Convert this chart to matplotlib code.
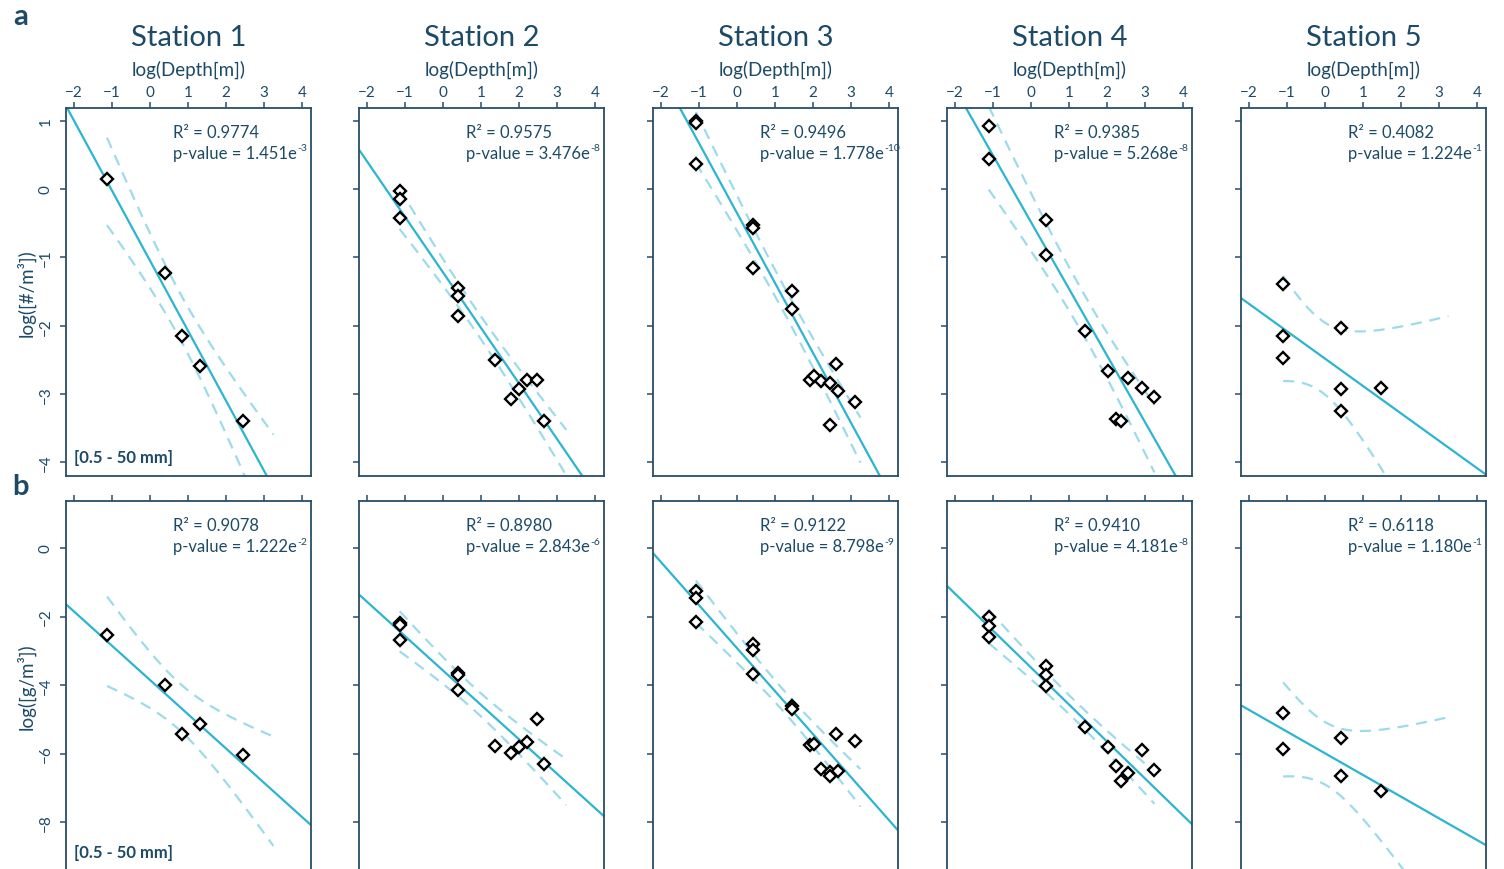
import numpy as np
import matplotlib
matplotlib.use("Agg")
import matplotlib.pyplot as plt

plt.rcParams['font.family'] = ['Lato', 'DejaVu Sans']

# --- data: x = log(depth), y = log(abundance) ---
stations = ['Station 1', 'Station 2', 'Station 3', 'Station 4', 'Station 5']

# a) log([#/m3])
x1a = [-1.13, 0.39, 0.85, 1.32, 2.45]
y1a = [0.15, -1.23, -2.15, -2.59, -3.39]
x2a = [-1.14, -1.14, -1.14, 0.39, 0.39, 0.39, 1.36, 1.79, 2.0, 2.22, 2.48, 2.65]
y2a = [-0.03, -0.14, -0.43, -1.45, -1.56, -1.86, -2.50, -3.07, -2.93, -2.80, -2.79, -3.39]
x3a = [-1.08, -1.08, -1.08, 0.42, 0.42, 0.42, 1.46, 1.45, 1.93, 2.03, 2.2, 2.45, 2.6, 2.67, 3.12, 2.45]
y3a = [0.99, 0.96, 0.37, -0.53, -0.57, -1.15, -1.49, -1.76, -2.80, -2.73, -2.81, -2.84, -2.56, -2.95, -3.12, -3.46]
x4a = [-1.11, -1.11, 0.39, 0.39, 1.42, 2.02, 2.24, 2.37, 2.55, 2.93, 3.25]
y4a = [0.92, 0.44, -0.45, -0.96, -2.08, -2.67, -3.36, -3.39, -2.76, -2.91, -3.05]
x5a = [-1.10, -1.10, -1.10, 0.41, 0.41, 0.41, 1.47]
y5a = [-1.39, -2.15, -2.47, -2.04, -2.92, -3.25, -2.91]

# b) log([g/m3])
x1b = [-1.13, 0.39, 0.85, 1.32, 2.45]
y1b = [-2.55, -4.0, -5.43, -5.13, -6.03]
x2b = [-1.14, -1.14, -1.14, 0.39, 0.39, 0.39, 1.36, 1.79, 2.0, 2.22, 2.48, 2.65]
y2b = [-2.18, -2.25, -2.69, -3.65, -3.71, -4.16, -5.79, -5.99, -5.80, -5.67, -5.00, -6.31]
x3b = [-1.08, -1.08, -1.08, 0.42, 0.42, 0.42, 1.46, 1.46, 1.93, 2.03, 2.2, 2.45, 2.45, 2.6, 2.67, 3.12]
y3b = [-1.27, -1.45, -2.15, -2.81, -2.98, -3.68, -4.61, -4.71, -5.75, -5.71, -6.45, -6.53, -6.67, -5.42, -6.51, -5.64]
x4b = [-1.11, -1.11, -1.11, 0.39, 0.39, 0.39, 1.42, 2.02, 2.25, 2.37, 2.55, 2.93, 3.25]
y4b = [-2.02, -2.27, -2.59, -3.44, -3.70, -4.02, -5.22, -5.80, -6.36, -6.79, -6.58, -5.89, -6.47]
x5b = [-1.10, -1.10, 0.41, 0.41, 1.47]
y5b = [-4.83, -5.88, -5.56, -6.66, -7.09]

r2_a = ['0.9774', '0.9575', '0.9496', '0.9385', '0.4082']
p_a = [('1.451', '-3'), ('3.476', '-8'), ('1.778', '-10'), ('5.268', '-8'), ('1.224', '-1')]
r2_b = ['0.9078', '0.8980', '0.9122', '0.9410', '0.6118']
p_b = [('1.222', '-2'), ('2.843', '-6'), ('8.798', '-9'), ('4.181', '-8'), ('1.180', '-1')]

# two-sided 95% t quantiles by degrees of freedom
t95 = {1: 12.706, 2: 4.303, 3: 3.182, 4: 2.776, 5: 2.571, 6: 2.447, 7: 2.365, 8: 2.306,
       9: 2.262, 10: 2.228, 11: 2.201, 12: 2.179, 13: 2.160, 14: 2.145, 15: 2.131, 16: 2.120}

rows = [
    dict(xs=[x1a, x2a, x3a, x4a, x5a], ys=[y1a, y2a, y3a, y4a, y5a], r2=r2_a, p=p_a,
         ylim=(-4.2, 1.186), yticks=[-4, -3, -2, -1, 0, 1], ylabel='log([#/m³])'),
    dict(xs=[x1b, x2b, x3b, x4b, x5b], ys=[y1b, y2b, y3b, y4b, y5b], r2=r2_b, p=p_b,
         ylim=(-9.43, 1.372), yticks=[-8, -6, -4, -2, 0], ylabel='log([g/m³])'),
]
x_band_max = max(max(x) for r in rows for x in r['xs'])

W, H = 1504, 870
TXT = '#1d4a66'
SPINE = '#2a4d68'
FIT = '#2bb5d0'
BAND = '#9edbe9'

fig = plt.figure(figsize=(W / 100, H / 100), dpi=100)
lefts = [66, 359, 653, 947, 1241]
aw = 245
row_box = [(109, 477), (502, 872)]

for r, row in enumerate(rows):
    top, bot = row_box[r]
    for c in range(5):
        ax = fig.add_axes([lefts[c] / W, (H - bot) / H, aw / W, (bot - top) / H])
        x = np.array(row['xs'][c])
        y = np.array(row['ys'][c])

        # least squares fit + 95% confidence band of the mean
        n = len(x)
        slope, icpt = np.polyfit(x, y, 1)
        resid = y - (icpt + slope * x)
        s = np.sqrt(np.sum(resid ** 2) / (n - 2))
        sxx = np.sum((x - x.mean()) ** 2)
        xl = np.array([-3.0, 5.0])
        ax.plot(xl, icpt + slope * xl, color=FIT, lw=1.6, zorder=2)
        xg = np.linspace(x.min(), x_band_max, 200)
        half = t95[n - 2] * s * np.sqrt(1 / n + (xg - x.mean()) ** 2 / sxx)
        yg = icpt + slope * xg
        for sign in (1, -1):
            ax.plot(xg, yg + sign * half, color=BAND, lw=1.6, ls=(0, (5, 3.5)), zorder=2)

        ax.plot(x, y, ls='none', marker='D', ms=6.5, mfc='white', mec='black', mew=1.7, zorder=3)

        ax.set_xlim(-2.21, 4.24)
        ax.set_ylim(*row['ylim'])
        ax.set_xticks(range(-2, 5))
        ax.set_yticks(row['yticks'])
        ax.xaxis.tick_top()
        for sp in ax.spines.values():
            sp.set_color(SPINE)
            sp.set_linewidth(1.3)
        ax.tick_params(axis='both', colors=SPINE, labelcolor=TXT, length=4.5, width=1.1,
                       labelsize=11)
        ax.tick_params(axis='x', pad=2, labeltop=(r == 0), labelbottom=False)
        ax.tick_params(axis='y', pad=5, labelleft=(c == 0))
        if c == 0:
            for lab in ax.get_yticklabels():
                lab.set_rotation(90)
                lab.set_va('center')

        ax.text(0.435, 0.935, 'R² = ' + row['r2'][c], transform=ax.transAxes,
                fontsize=12, color=TXT, va='center', ha='left')
        mant, ex = row['p'][c]
        pt = ax.text(0.435, 0.878, 'p-value = ' + mant + 'e', transform=ax.transAxes,
                     fontsize=12, color=TXT, va='center', ha='left')
        ax.annotate(ex, xy=(1.0, 0.82), xycoords=pt, xytext=(0.3, 0), textcoords='offset points',
                    fontsize=7.5, color=TXT, va='center', ha='left')
        if c == 0:
            ax.text(0.033, 0.052, '[0.5 - 50 mm]', transform=ax.transAxes, fontsize=12,
                    fontweight='bold', color=TXT, va='center', ha='left')

        if r == 0:
            cx = (lefts[c] + aw / 2) / W
            fig.text(cx, 1 - 38 / H, stations[c], fontsize=21, color=TXT, ha='center', va='center')
            fig.text(cx, 1 - 70 / H, 'log(Depth[m])', fontsize=13.5, color=TXT, ha='center', va='center')

    fig.text(26 / W, 1 - ((top + bot) / 2) / H, row['ylabel'], rotation=90, fontsize=13.5,
             color=TXT, ha='center', va='center')

fig.text(21 / W, 1 - 17 / H, 'a', fontsize=21, fontweight='bold', color=TXT, ha='center', va='center')
fig.text(21 / W, 1 - 487 / H, 'b', fontsize=21, fontweight='bold', color=TXT, ha='center', va='center')

fig.savefig('out.png', dpi=100)
